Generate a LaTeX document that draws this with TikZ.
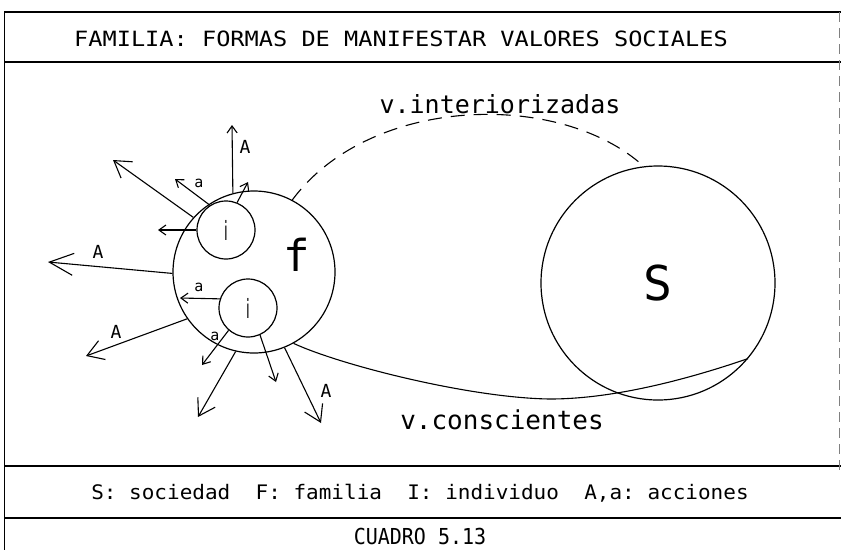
\documentclass[tikz,border=0pt]{standalone}
\usepackage{fontspec}
\setmainfont{DejaVu Sans Mono}
\newfontfamily\sansfam{DejaVu Sans}
\usetikzlibrary{arrows.meta}
\begin{document}
\begin{tikzpicture}[x=1pt,y=-1pt,
  line width=1.1pt,
  txt/.style={inner sep=0pt, font=\fontsize{#1}{#1}\selectfont},
  circ/.style={draw, circle, inner sep=0pt, line width=1.2pt},
  frameline/.style={line width=1.4pt},
  bigarr/.style={-{Straight Barb[length=16pt,width=20pt]}},
  hugearr/.style={-{Straight Barb[length=24pt,width=22pt]}},
  smallarr/.style={-{Straight Barb[length=7pt,width=10pt]}},
  dashline/.style={dash pattern=on 14pt off 9pt}
]
\useasboundingbox (0,0) rectangle (841,550);
\fill[white] (0,0) rectangle (841,550);

% frame
\draw[frameline] (4,12) -- (841,12);
\draw[frameline] (4,62) -- (841,62);
\draw[frameline] (4,466) -- (841,466);
\draw[frameline] (4,518) -- (841,518);
\draw[line width=0.8pt] (4,12) -- (4,550);
\draw[line width=0.6pt, gray, dash pattern=on 10pt off 6pt] (839,12) -- (839,470);

% texts
\node[txt=20] (title) at (401,39) {\scalebox{1.18}[1.05]{FAMILIA: FORMAS DE MANIFESTAR VALORES SOCIALES}};
\node[txt=20] (legend) at (420,493) {\scalebox{1.05}[1]{S:~sociedad~~F:~familia~~I:~individuo~~A,a:~acciones}};
\node[txt=20] (cuadro) at (420,536) {\scalebox{1}[1.1]{CUADRO 5.13}};

% circles
\node[circ, minimum size=162pt] (F) at (254,272) {};
\node[circ, minimum size=58pt] (I1) at (226,230) {\scalebox{0.6}[1.2]{\sansfam\fontsize{22}{22}\selectfont i}};
\node[circ, minimum size=58pt] (I2) at (248,308) {\scalebox{0.6}[1.2]{\sansfam\fontsize{22}{22}\selectfont i}};
\node[circ, minimum size=234pt] (S) at (658,283) {\fontsize{48}{48}\selectfont S};
\node[txt=44] (flab) at (297,255) {f};

% dashed and solid links
\draw[dashline] (F.62) .. controls (370,95) and (560,90) .. (S.97);
\node[txt=25] (vint) at (500,104) {v.interiorizadas};
\coordinate (mid) at (550,399);
\draw (F.-61) .. controls (340,365) and (470,398) .. (mid)
      .. controls (620,399) and (700,375) .. (S.-40);
\node[txt=26] (vcon) at (502,420) {v.conscientes};

% arrow end points
\coordinate (e1) at (232,125);
\coordinate (e2) at (248,182);
\coordinate (e3) at (175,179);
\coordinate (e4) at (113,160);
\coordinate (e5) at (158,230);
\coordinate (e6) at (48,262);
\coordinate (e7) at (180,298);
\coordinate (e8) at (86,356);
\coordinate (e9) at (202,365);
\coordinate (e10) at (198,417);
\coordinate (e11) at (276,382);
\coordinate (e12) at (321,423);

\draw[smallarr] (F.105) -- (e1);
\draw[smallarr] (I1.68) -- (e2);
\draw[smallarr] (I1.123) -- (e3);
\draw[bigarr] (F.138) -- (e4);
\draw[smallarr] (I1.180) -- (e5);
\draw[hugearr] (F.181) -- (e6);
\draw[smallarr] (I2.162) -- (e7);
\draw[bigarr] (F.215) -- (e8);
\draw[smallarr] (I2.229) -- (e9);
\draw[bigarr] (F.257) -- (e10);
\draw[smallarr] (I2.294) -- (e11);
\draw[bigarr] (F.292) -- (e12);

% labels
\node[txt=18] (lA1) at (245,147) {A};
\node[txt=15] (la3) at (199,183) {a};
\node[txt=18] (lA6) at (98,252) {A};
\node[txt=15] (la7) at (199,287) {a};
\node[txt=18] (lA8) at (116,332) {A};
\node[txt=15] (la9) at (215,336) {a};
\node[txt=18] (lA12) at (326,391) {A};
\end{tikzpicture}
\end{document}
